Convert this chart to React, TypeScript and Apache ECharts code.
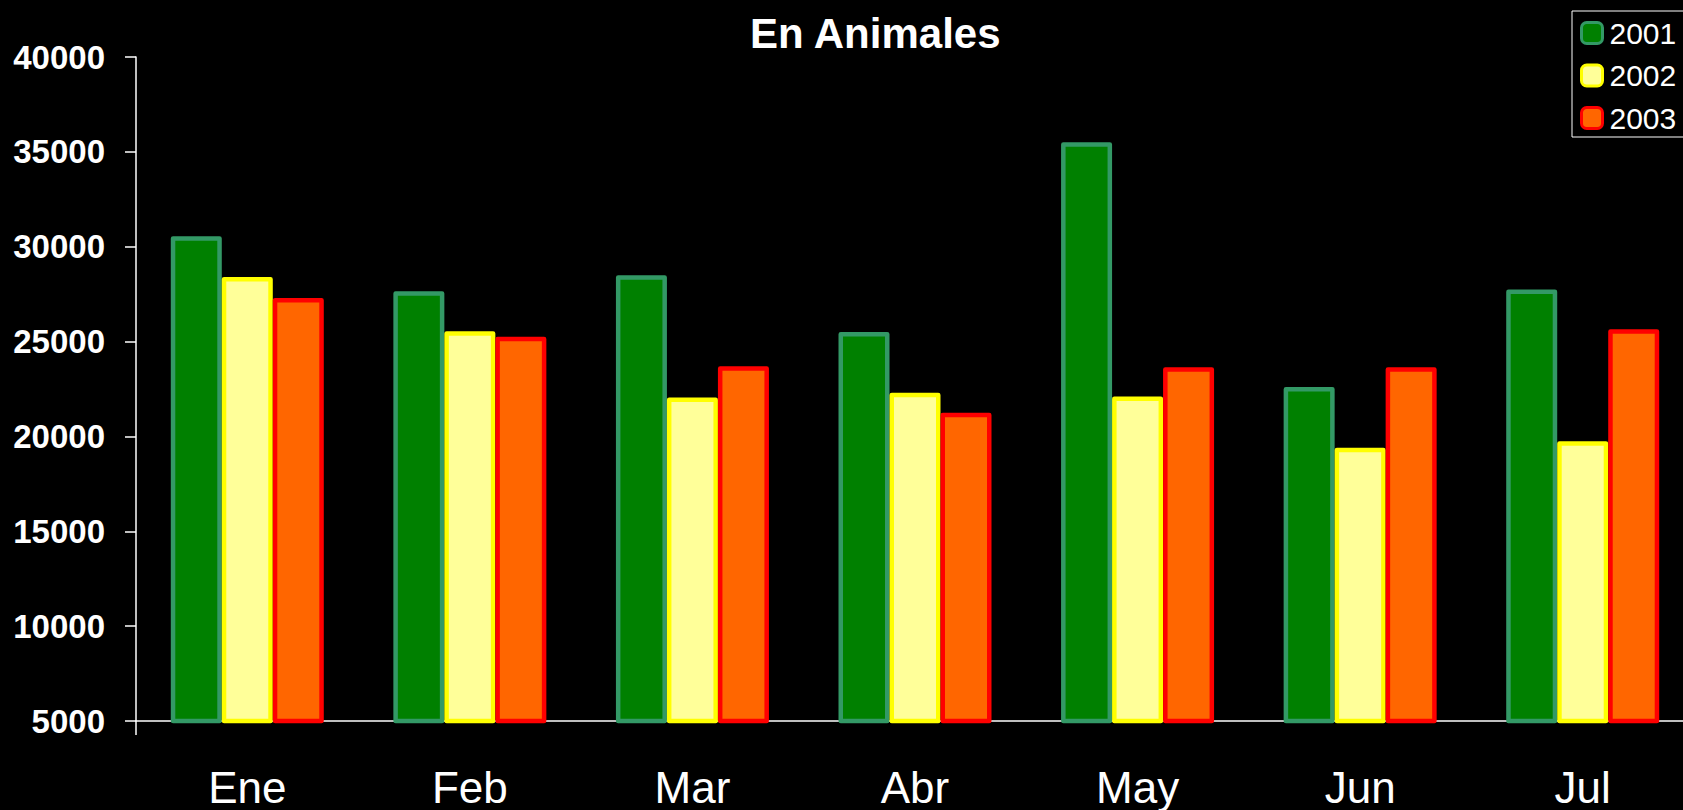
import React, { useEffect, useRef } from "react";
import * as echarts from "echarts";

const months = ["Ene", "Feb", "Mar", "Abr", "May", "Jun", "Jul"];
const years = ["2001", "2002", "2003"];
const values2001 = [30550, 27650, 28500, 25500, 35500, 22600, 27750];
const values2002 = [28400, 25550, 22050, 22300, 22100, 19400, 19750];
const values2003 = [27300, 25250, 23700, 21250, 23650, 23650, 25650];
const fills = ["#008000", "#FFFF99", "#FF6600"];
const borders = ["#339966", "#FFFF00", "#FF0000"];

const FONT = "'Liberation Sans', Arial, sans-serif";

export default function App() {
  const ref = useRef<HTMLDivElement>(null);
  useEffect(() => {
    if (!ref.current) return;
    const chart = echarts.init(ref.current, null, { renderer: "svg" });
    const data = [values2001, values2002, values2003];
    chart.setOption({
      animation: false,
      backgroundColor: "#000000",
      title: {
        text: "En Animales",
        left: 745,
        top: 7,
        textStyle: { color: "#ffffff", fontSize: 42, fontWeight: "bold", fontFamily: FONT },
      },
      legend: {
        data: years,
        orient: "vertical",
        left: 1572,
        top: 11,
        padding: [7, 12, 4, 8],
        itemWidth: 21,
        itemHeight: 21,
        itemGap: 12.5,
        icon: "roundRect",
        borderColor: "#ffffff",
        borderWidth: 1,
        backgroundColor: "#000000",
        borderRadius: 0,
        itemStyle: { borderWidth: 3 },
        textStyle: { color: "#ffffff", fontSize: 30, fontFamily: FONT, padding: [0, 0, 0, 2] },
      },
      grid: { left: 136, top: 57, bottom: 89, right: 0, containLabel: false },
      xAxis: {
        type: "category",
        data: months,
        axisLine: { show: true, lineStyle: { color: "#ffffff", width: 1.5 } },
        axisTick: {
          show: true,
          interval: (i: number) => i === 0,
          length: 14,
          lineStyle: { color: "#ffffff", width: 1.5 },
        },
        axisLabel: { color: "#ffffff", fontSize: 44, fontFamily: FONT, margin: 44 },
        splitLine: { show: false },
      },
      yAxis: {
        type: "value",
        min: 5000,
        max: 40000,
        interval: 5000,
        axisLine: { show: true, lineStyle: { color: "#ffffff", width: 1.5 } },
        axisTick: { show: true, length: 11, lineStyle: { color: "#ffffff", width: 1.5 } },
        axisLabel: {
          color: "#ffffff",
          fontSize: 33,
          fontWeight: "bold",
          fontFamily: FONT,
          margin: 31,
          formatter: (v: number) => String(v),
        },
        splitLine: { show: false },
      },
      series: years.map((y, i) => ({
        name: y,
        type: "bar",
        data: data[i],
        barWidth: 51,
        barGap: "0%",
        itemStyle: {
          color: fills[i],
          borderColor: borders[i],
          borderWidth: 4.5,
          borderJoin: "round",
        },
      })),
    });
    return () => chart.dispose();
  }, []);
  return (
    <div
      style={{ position: "absolute", left: 0, top: 0, width: 1683, height: 810, overflow: "hidden", background: "#000" }}
    >
      <div ref={ref} style={{ position: "absolute", left: 0, top: 0, width: 1694, height: 810 }} />
    </div>
  );
}
